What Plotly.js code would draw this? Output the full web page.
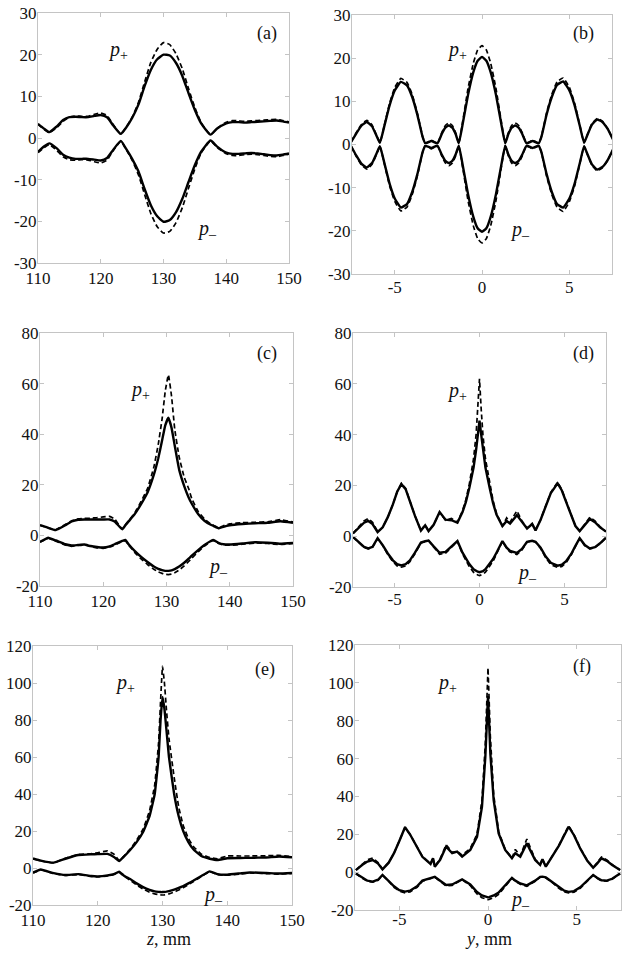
<!DOCTYPE html>
<html>
<head>
<meta charset="utf-8">
<script src="https://cdn.plot.ly/plotly-3.0.1.min.js"></script>
<style>html,body{margin:0;padding:0;background:#fff;}#chart{width:629px;height:953px;}</style>
</head>
<body>
<div id="chart"></div>
<script>
// ---------- tick labels ----------
const zTickVals = [110, 120, 130, 140, 150];
const zTickText = ["110", "120", "130", "140", "150"];
const yTickVals = [-5, 0, 5];
const yTickText = ["-5", "0", "5"];
const tickVals30 = [-30, -20, -10, 0, 10, 20, 30];
const tickText30 = ["-30", "-20", "-10", "0", "10", "20", "30"];
const tickVals80 = [-20, 0, 20, 40, 60, 80];
const tickText80 = ["-20", "0", "20", "40", "60", "80"];
const tickVals120 = [-20, 0, 20, 40, 60, 80, 100, 120];
const tickText120 = ["-20", "0", "20", "40", "60", "80", "100", "120"];

// ---------- panel (a): z scan ----------
const xA = [110,111,111.8,113,114,115,116,117,118,119,120,121,122,123.2,124,125,126,127,128,129,130,131,132,133,134,135,136,137.5,138.5,140,141,142,143,144,145,146,147,148,149,150];
const aPlusSolid = [3.4,2.2,1.4,2.8,4.3,5.0,5.1,5.0,5.0,5.3,5.5,5.0,3.0,1.0,2.4,4.8,8.0,12.5,16.4,18.9,20.0,19.8,18.0,14.9,10.7,6.7,3.5,0.8,2.2,3.5,3.8,3.8,3.7,3.8,3.9,4.0,4.1,4.2,4.0,3.7];
const aPlusDash = [3.3,2.0,1.3,2.5,4.0,5.0,5.3,5.2,5.2,5.7,6.0,5.4,3.2,0.9,2.5,5.0,8.5,13.5,18.2,21.3,22.9,22.4,20.2,16.6,11.8,7.3,3.7,0.8,2.3,3.8,4.2,4.1,4.0,4.1,4.2,4.3,4.4,4.5,4.2,3.9];
const aMinusSolid = [-3.3,-2.0,-1.3,-2.5,-4.0,-4.7,-5.0,-5.0,-5.0,-5.2,-5.4,-4.8,-2.8,-0.7,-2.5,-5.0,-8.0,-12.3,-16.2,-18.8,-20.1,-19.7,-17.8,-14.6,-10.5,-6.5,-3.3,-0.6,-2.0,-3.5,-3.8,-3.8,-3.7,-3.6,-3.7,-3.9,-4.1,-4.2,-4.0,-3.7];
const aMinusDash = [-3.5,-2.3,-1.6,-3.0,-4.5,-5.2,-5.3,-5.2,-5.3,-5.7,-6.0,-5.3,-3.0,-0.8,-2.6,-5.3,-8.8,-13.6,-18.2,-21.3,-22.8,-22.4,-20.3,-16.7,-12.0,-7.4,-3.6,-0.7,-2.2,-3.8,-4.2,-4.2,-4.0,-3.9,-4.0,-4.2,-4.4,-4.5,-4.2,-3.9];

// ---------- panel (b): y scan ----------
const xB = [-7.5,-7.2,-6.9,-6.6,-6.3,-6.0,-5.85,-5.6,-5.3,-5.0,-4.65,-4.3,-4.0,-3.7,-3.4,-3.25,-2.9,-2.55,-2.3,-2.1,-1.9,-1.7,-1.5,-1.33,-1.1,-0.8,-0.5,-0.25,0,0.25,0.5,0.8,1.1,1.33,1.5,1.7,1.9,2.1,2.3,2.55,2.9,3.25,3.4,3.7,4.0,4.3,4.65,5.0,5.3,5.6,5.85,6.0,6.3,6.6,6.9,7.2,7.5];
const bPlusSolid = [0.6,2.6,4.4,5.2,4.2,1.6,0.4,4.2,9.0,12.5,14.5,13.7,11.0,6.8,1.7,0.3,0.8,0.3,2.5,3.9,4.4,3.9,2.3,0.3,4.9,11.5,16.7,19.4,20.3,19.4,16.7,11.5,4.9,0.3,2.3,3.9,4.4,3.9,2.5,0.3,0.8,0.3,1.7,6.9,11.0,13.8,14.6,12.6,9.2,4.4,0.4,1.8,4.6,5.8,5.2,3.6,1.2];
const bPlusDash = [0.6,2.8,4.7,5.6,4.5,1.7,0.4,4.4,9.5,13.2,15.3,14.4,11.6,7.2,1.8,0.3,1.0,0.3,2.8,4.4,5.0,4.4,2.6,0.3,5.5,13.0,18.8,21.9,22.9,21.9,18.8,13.0,5.5,0.3,2.6,4.4,5.0,4.4,2.8,0.3,1.0,0.3,1.8,7.3,11.6,14.5,15.4,13.3,9.7,4.6,0.4,1.9,4.8,6.0,5.4,3.7,1.2];
const bMinusSolid = [-0.4,-2.6,-4.5,-5.3,-4.3,-1.7,-0.4,-4.2,-9.0,-12.5,-14.6,-13.8,-11.0,-6.8,-1.7,-0.3,-0.8,-0.3,-2.4,-3.8,-4.3,-3.8,-2.2,-0.3,-4.9,-11.5,-16.7,-19.4,-20.2,-19.4,-16.7,-11.5,-4.9,-0.3,-2.2,-3.8,-4.3,-3.8,-2.4,-0.3,-0.8,-0.3,-1.7,-6.8,-11.0,-13.8,-14.6,-12.6,-9.2,-4.4,-0.4,-1.8,-4.6,-5.8,-5.2,-3.6,-1.2];
const bMinusDash = [-0.4,-2.8,-4.8,-5.7,-4.6,-1.8,-0.4,-4.4,-9.5,-13.2,-15.4,-14.5,-11.6,-7.2,-1.8,-0.3,-1.0,-0.3,-2.7,-4.3,-4.9,-4.3,-2.5,-0.3,-5.5,-13.0,-18.8,-21.8,-22.8,-21.8,-18.8,-13.0,-5.5,-0.3,-2.5,-4.3,-4.9,-4.3,-2.7,-0.3,-1.0,-0.3,-1.8,-7.3,-11.6,-14.5,-15.5,-13.3,-9.7,-4.6,-0.4,-1.9,-4.8,-6.1,-5.4,-3.7,-1.2];

// ---------- panel (c): z scan ----------
const xC = [110,111,111.3,112.5,114,115,116,117,118,119,120,121,121.8,123,123.5,124,125,126,127,128,128.7,129.3,129.8,130.3,130.8,131.3,132,132.8,133.5,134,135,136,137,137.4,138.3,139,140,142,144,146,148,150];
const cPlusSolid = [4.1,3.3,3.0,2.1,4.0,5.5,6.2,6.3,6.3,6.3,6.3,6.3,5.5,2.4,4.0,5.5,8.5,12.5,17.0,24.0,30.5,37.5,43.5,46.5,42.5,35.5,26.0,19.5,15.0,12.5,8.5,5.8,4.2,3.8,2.8,3.4,4.0,4.5,4.8,5.0,5.6,5.0];
const cPlusDash = [4.0,3.2,2.9,2.3,4.3,5.8,6.5,6.7,6.8,7.0,7.3,7.5,6.5,2.5,4.2,5.8,9.0,13.5,18.5,27.0,36.0,46.0,57.0,63.5,55.0,42.0,31.0,23.0,18.5,14.5,9.5,6.5,4.5,4.0,3.0,3.8,4.6,5.0,5.2,5.4,6.2,5.3];
const cMinusSolid = [-2.5,-1.3,-0.9,-2.0,-3.5,-4.0,-3.8,-3.6,-4.2,-4.6,-4.8,-4.3,-3.5,-2.2,-1.8,-3.5,-6.2,-8.5,-10.5,-12.3,-13.2,-13.7,-14.0,-14.0,-13.8,-13.3,-12.3,-10.8,-9.2,-8.0,-5.8,-3.8,-2.2,-1.8,-3.0,-3.5,-3.6,-3.2,-2.7,-2.9,-3.3,-3.0];
const cMinusDash = [-2.7,-1.5,-1.1,-2.3,-3.8,-4.3,-4.0,-3.8,-4.4,-4.9,-5.1,-4.6,-3.8,-2.4,-2.0,-3.8,-6.8,-9.3,-11.5,-13.4,-14.4,-15.0,-15.4,-15.5,-15.3,-14.8,-13.7,-12.0,-10.3,-9.0,-6.5,-4.2,-2.4,-2.0,-3.3,-3.8,-3.9,-3.5,-3.0,-3.2,-3.6,-3.2];

// ---------- panel (d): y scan ----------
const xD = [-7.45,-7.1,-6.8,-6.55,-6.3,-6.0,-5.7,-5.4,-5.1,-4.85,-4.6,-4.35,-4.1,-3.8,-3.45,-3.2,-3.0,-2.7,-2.35,-2.0,-1.65,-1.3,-1.0,-0.8,-0.6,-0.35,-0.2,-0.1,0,0.1,0.2,0.35,0.6,0.8,1.0,1.35,1.6,1.8,2.2,2.5,2.8,3.1,3.3,3.6,3.9,4.2,4.6,4.85,5.1,5.4,5.65,5.9,6.2,6.5,6.8,7.1,7.45];
const dPlusSolid = [1.1,3.5,5.3,6.0,4.8,1.6,3.5,7.5,12.5,17.5,20.5,18.5,13.5,8.0,2.2,4.3,2.0,4.5,9.5,6.5,6.3,5.3,9.5,13.5,19.0,27.0,34.0,40.0,45.5,40.0,34.0,27.0,19.0,13.0,8.5,4.0,6.0,5.0,8.3,5.5,3.0,4.8,2.3,6.5,12.0,17.0,20.8,18.0,13.5,8.0,4.0,2.0,4.5,6.8,5.5,3.5,1.8];
const dPlusDash = [1.1,3.8,6.0,7.0,5.5,1.8,3.5,7.5,12.5,17.5,20.8,18.8,13.5,8.0,2.3,4.5,2.1,4.5,9.3,6.3,7.0,5.5,10.0,14.5,20.5,30.5,40.0,50.0,62.0,50.0,40.0,30.5,20.5,14.0,9.0,4.0,7.2,5.5,10.0,6.0,3.2,5.0,2.4,6.5,12.0,17.2,21.3,18.3,13.8,8.2,4.0,2.0,5.0,7.5,6.0,3.7,1.8];
const dMinusSolid = [-0.3,-2.5,-4.2,-4.8,-4.2,-0.8,-3.5,-6.8,-9.5,-11.0,-11.5,-11.0,-9.5,-6.5,-2.5,-2.0,-1.7,-4.0,-6.5,-6.2,-4.2,-1.9,-6.5,-9.0,-11.0,-13.0,-13.8,-14.0,-14.2,-14.0,-13.8,-13.0,-11.0,-9.0,-6.5,-1.9,-4.5,-5.8,-6.6,-5.0,-2.2,-1.8,-2.2,-4.5,-8.0,-10.5,-11.6,-11.2,-9.8,-7.0,-3.8,-0.8,-3.5,-4.8,-4.3,-2.8,-0.6];
const dMinusDash = [-0.3,-2.6,-4.4,-5.0,-4.4,-0.9,-3.7,-7.2,-10.0,-11.7,-12.2,-11.7,-10.0,-6.9,-2.7,-2.1,-1.8,-4.2,-7.1,-6.7,-4.4,-2.0,-7.0,-9.8,-12.0,-14.2,-15.0,-15.3,-15.5,-15.3,-15.0,-14.2,-12.0,-9.8,-7.0,-2.0,-4.8,-6.2,-7.2,-5.4,-2.3,-1.9,-2.3,-4.8,-8.5,-11.2,-12.3,-11.9,-10.4,-7.4,-4.0,-0.9,-3.7,-5.0,-4.5,-2.9,-0.6];

// ---------- panel (e): z scan ----------
const xE = [110,111.2,113.2,115,117,119,120,121.5,122.5,123.3,124,125,126,127,128,128.8,129.4,129.7,130,130.3,130.6,131,131.8,132.5,133.2,134,134.8,136,137.3,138.5,140,142,143.5,146,148,150];
const ePlusSolid = [5.2,4.0,2.9,5.0,7.0,7.4,7.5,7.6,6.0,3.8,6.0,9.7,14.0,19.5,28.0,40.0,60.0,80.0,92.5,86.0,75.0,60.0,40.0,28.0,20.0,14.0,10.0,6.5,5.0,4.3,5.3,5.4,5.5,5.7,6.2,5.8];
const ePlusDash = [5.0,3.8,2.8,5.2,7.3,7.8,8.2,9.3,7.5,4.0,6.3,10.2,15.0,21.0,31.0,45.0,68.0,90.0,109.0,100.0,86.0,70.0,49.0,33.0,23.0,16.0,11.5,7.5,5.6,5.0,6.5,6.5,6.5,6.6,6.8,6.2];
const eMinusSolid = [-2.5,-0.8,-2.8,-3.8,-3.3,-4.3,-4.5,-4.0,-3.3,-2.0,-4.0,-6.0,-8.3,-10.3,-11.8,-12.6,-12.9,-13.0,-13.0,-12.9,-12.8,-12.5,-11.7,-10.8,-9.8,-8.3,-6.8,-4.3,-1.8,-3.3,-3.6,-2.9,-2.4,-2.7,-3.0,-2.7];
const eMinusDash = [-2.7,-1.0,-3.0,-4.0,-3.5,-4.6,-4.8,-4.3,-3.5,-2.2,-4.3,-6.6,-9.2,-11.4,-13.1,-14.0,-14.4,-14.5,-14.6,-14.5,-14.3,-14.0,-13.0,-11.9,-10.7,-9.0,-7.3,-4.6,-2.0,-3.6,-3.9,-3.2,-2.7,-3.0,-3.3,-2.9];

// ---------- panel (f): y scan ----------
const xF = [-7.45,-7.1,-6.8,-6.5,-6.2,-5.95,-5.6,-5.3,-5.0,-4.68,-4.4,-4.0,-3.7,-3.24,-3.1,-3.0,-2.7,-2.36,-2.02,-1.74,-1.46,-1.0,-0.62,-0.34,-0.15,-0.06,0,0.06,0.13,0.32,0.6,0.97,1.35,1.54,1.82,2.19,2.66,2.94,3.07,3.26,3.6,4.0,4.3,4.55,4.85,5.2,5.6,5.93,6.15,6.4,6.7,7.0,7.45];
const fPlusSolid = [1.1,3.8,5.6,6.4,4.5,1.5,5.0,10.0,16.5,23.7,20.0,13.5,8.1,4.3,7.3,2.9,6.5,13.5,10.0,10.8,8.2,11.7,18.7,34.5,61.0,80.0,93.0,80.0,63.0,38.0,20.5,11.7,7.3,10.0,8.2,15.2,6.4,3.8,6.8,2.9,8.0,14.0,19.5,24.0,19.5,12.5,6.0,2.3,4.5,7.3,6.0,3.8,1.1];
const fPlusDash = [1.1,4.2,6.5,7.5,5.0,1.6,5.0,10.0,16.5,23.5,20.0,13.5,8.3,4.5,7.5,3.0,7.0,14.5,10.5,11.0,9.0,12.5,20.0,38.0,68.0,92.0,108.0,92.0,72.0,41.0,21.5,12.0,7.5,12.0,8.5,17.5,6.8,4.0,7.0,3.0,8.2,14.2,20.0,24.5,19.8,12.8,6.2,2.4,5.0,8.0,6.5,4.0,1.1];
const fMinusSolid = [-0.7,-3.0,-4.5,-5.0,-4.0,-1.5,-4.5,-7.5,-9.5,-10.3,-9.8,-7.5,-4.5,-3.0,-2.8,-2.5,-4.5,-6.8,-6.5,-5.0,-3.8,-6.5,-10.5,-12.3,-13.0,-13.2,-13.3,-13.2,-13.0,-12.3,-10.8,-7.2,-3.0,-4.5,-6.0,-7.0,-4.5,-2.5,-2.4,-2.8,-5.0,-8.0,-9.8,-10.4,-10.0,-8.0,-4.5,-1.5,-3.0,-4.3,-4.5,-3.5,-0.7];
const fMinusDash = [-0.7,-3.2,-4.8,-5.3,-4.3,-1.6,-4.8,-8.0,-10.0,-10.9,-10.4,-8.0,-4.8,-3.2,-3.0,-2.7,-4.8,-7.3,-7.0,-5.4,-4.0,-7.1,-11.5,-13.5,-14.2,-14.4,-14.5,-14.4,-14.2,-13.5,-11.8,-7.8,-3.2,-4.8,-6.4,-7.5,-4.8,-2.7,-2.6,-3.0,-5.3,-8.5,-10.4,-11.0,-10.6,-8.5,-4.8,-1.6,-3.2,-4.6,-4.8,-3.7,-0.7];

// ---------- build ----------
const W = 629, H = 953;
const FONT = '"Liberation Serif", "Times New Roman", Times, serif';

const panels = [
  {x: xA, s: [aPlusSolid, aPlusDash, aMinusSolid, aMinusDash], smooth: 0.5, box: [38, 13, 289, 263], xr: [110, 150], yr: [-30, 30], xt: [zTickVals, zTickText], yt: [tickVals30, tickText30], xso: 0, tag: "(a)", tagPos: [267, 34], pp: [118, 50], pm: [207, 229], title: null},
  {x: xB, s: [bPlusSolid, bPlusDash, bMinusSolid, bMinusDash], smooth: 0.4, box: [352, 15, 612, 274], xr: [-7.45, 7.45], yr: [-30, 30], xt: [yTickVals, yTickText], yt: [tickVals30, tickText30], xso: -2, tag: "(b)", tagPos: [583, 34], pp: [457, 50], pm: [520, 231], title: null},
  {x: xC, s: [cPlusSolid, cPlusDash, cMinusSolid, cMinusDash], smooth: 0.3, box: [40, 333, 293, 586], xr: [110, 150], yr: [-20, 80], xt: [zTickVals, zTickText], yt: [tickVals80, tickText80], xso: 0, tag: "(c)", tagPos: [267, 354], pp: [140, 390], pm: [218, 567], title: null},
  {x: xD, s: [dPlusSolid, dPlusDash, dMinusSolid, dMinusDash], smooth: 0, box: [353, 333, 606, 587], xr: [-7.45, 7.45], yr: [-20, 80], xt: [yTickVals, yTickText], yt: [tickVals80, tickText80], xso: -3, tag: "(d)", tagPos: [583, 354], pp: [457, 391], pm: [527, 573], title: null},
  {x: xE, s: [ePlusSolid, ePlusDash, eMinusSolid, eMinusDash], smooth: 0.3, box: [33, 646, 292, 905], xr: [110, 150], yr: [-20, 120], xt: [zTickVals, zTickText], yt: [tickVals120, tickText120], xso: 0, tag: "(e)", tagPos: [265, 669], pp: [125, 683], pm: [213, 895], title: "<i>z</i>, mm", titlePos: [168, 939]},
  {x: xF, s: [fPlusSolid, fPlusDash, fMinusSolid, fMinusDash], smooth: 0, box: [355, 645, 621, 910], xr: [-7.5, 7.5], yr: [-20, 120], xt: [yTickVals, yTickText], yt: [tickVals120, tickText120], xso: -6, tag: "(f)", tagPos: [582, 666], pp: [447, 683], pm: [520, 900], title: "<i>y</i>, mm", titlePos: [488, 939]}
];

const traces = [];
const layout = {
  width: W, height: H,
  margin: {l: 0, r: 0, t: 0, b: 0},
  paper_bgcolor: '#ffffff', plot_bgcolor: '#ffffff',
  showlegend: false,
  font: {family: FONT, size: 17, color: '#111111'},
  annotations: []
};

function ann(px, py, text, size) {
  return {xref: 'paper', yref: 'paper', x: px / W, y: 1 - py / H, text: text, showarrow: false,
          xanchor: 'center', yanchor: 'middle', borderpad: 0, font: {family: FONT, size: size, color: '#111111'}};
}

panels.forEach((p, i) => {
  const n = i === 0 ? '' : String(i + 1);
  const xa = 'x' + n, ya = 'y' + n;
  const shape = p.smooth > 0 ? 'spline' : 'linear';
  const styles = [
    {color: '#000000', width: 2.4, dash: 'solid'},
    {color: '#000000', width: 1.7, dash: '5px,3px'},
    {color: '#000000', width: 2.4, dash: 'solid'},
    {color: '#000000', width: 1.7, dash: '5px,3px'}
  ];
  p.s.forEach((vals, k) => {
    const line = Object.assign({shape: shape}, styles[k]);
    if (p.smooth > 0) line.smoothing = p.smooth;
    traces.push({type: 'scatter', mode: 'lines', x: p.x, y: vals, xaxis: xa, yaxis: ya,
                 line: line, hoverinfo: 'skip'});
  });
  const [l, t, r, b] = p.box;
  const common = {showgrid: false, zeroline: false, showline: true, linecolor: '#c4c4c4', linewidth: 1,
                  mirror: 'ticks', ticks: 'inside', ticklen: 4, tickcolor: '#c4c4c4', tickwidth: 1,
                  tickmode: 'array', tickfont: {family: FONT, size: 17, color: '#111111'}, fixedrange: true};
  layout['xaxis' + n] = Object.assign({}, common, {
    domain: [l / W, r / W], range: p.xr, anchor: ya,
    tickvals: p.xt[0], ticktext: p.xt[1], title: {text: ''}, ticklabelstandoff: p.xso
  });
  layout['yaxis' + n] = Object.assign({}, common, {
    domain: [1 - b / H, 1 - t / H], range: p.yr, anchor: xa,
    tickvals: p.yt[0], ticktext: p.yt[1], ticklabelstandoff: -3
  });
  layout.annotations.push(ann(p.tagPos[0], p.tagPos[1], p.tag, 18));
  layout.annotations.push(ann(p.pp[0], p.pp[1], '<i>p</i><sub>+</sub>', 20));
  layout.annotations.push(ann(p.pm[0], p.pm[1], '<i>p</i><sub>\u2013</sub>', 20));
  if (p.title) layout.annotations.push(ann(p.titlePos[0], p.titlePos[1], p.title, 18));
});

Plotly.newPlot('chart', traces, layout, {displayModeBar: false, staticPlot: true});
</script>
</body>
</html>
